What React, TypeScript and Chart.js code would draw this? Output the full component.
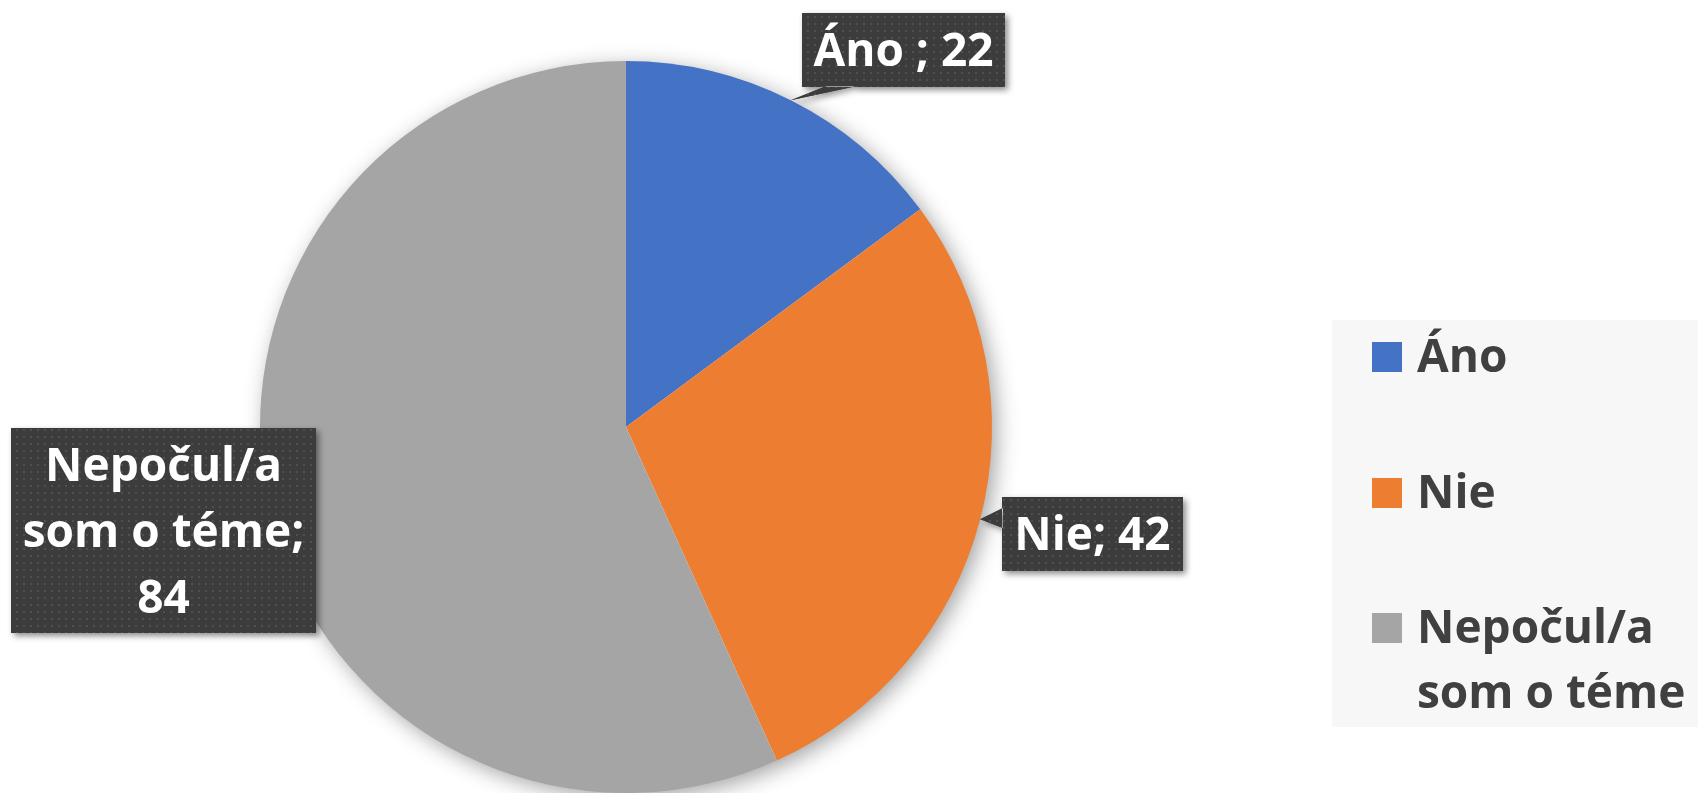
import React, { useEffect, useRef } from "react";
import { Chart, registerables } from "chart.js";

Chart.register(...registerables);

const categories = ["Áno", "Nie", "Nepočul/a som o téme"];
const values = [22, 42, 84];
const colors = ["#4472C4", "#ED7D31", "#A5A5A5"];
const dataLabelLines = [["Áno ; 22"], ["Nie; 42"], ["Nepočul/a", "som o téme;", "84"]];
const legendLines = [["Áno"], ["Nie"], ["Nepočul/a", "som o téme"]];

const FONT = "'Open Sans', 'DejaVu Sans', sans-serif";
const FONT_SIZE = 46;
const LINE_H = 66;

// layout of the label boxes (Excel-style manually placed callouts)
const labelBoxes = [
  { x: 802, y: 13, w: 203, h: 74, side: "bottom" },
  { x: 1002, y: 497, w: 181, h: 74, side: "left" },
  { x: 11, y: 428, w: 305, h: 205, side: "none" },
];

const legendBox = { x: 1332, y: 320, w: 366, h: 407 };
const legendItemsY = [342, 478, 613];

function makePattern(ctx: CanvasRenderingContext2D) {
  const c = document.createElement("canvas");
  c.width = 7;
  c.height = 7;
  const g = c.getContext("2d")!;
  g.fillStyle = "#3c3c3c";
  g.fillRect(0, 0, 7, 7);
  g.fillStyle = "#505050";
  g.fillRect(2, 2, 2, 2);
  return ctx.createPattern(c, "repeat");
}

const decorPlugin = {
  id: "decor",
  beforeDatasetsDraw(chart: any) {
    const ctx = chart.ctx as CanvasRenderingContext2D;
    const arc = chart.getDatasetMeta(0).data[0];
    if (!arc) return;
    const { x, y, outerRadius } = arc.getProps(["x", "y", "outerRadius"], true);
    ctx.save();
    ctx.shadowColor = "rgba(0,0,0,0.38)";
    ctx.shadowBlur = 22;
    ctx.shadowOffsetX = 5;
    ctx.shadowOffsetY = 5;
    ctx.fillStyle = "#ffffff";
    ctx.beginPath();
    ctx.arc(x, y, outerRadius - 1, 0, Math.PI * 2);
    ctx.fill();
    ctx.restore();
  },
  afterDatasetsDraw(chart: any) {
    const ctx = chart.ctx as CanvasRenderingContext2D;
    const meta = chart.getDatasetMeta(0);
    const pattern = makePattern(ctx);
    meta.data.forEach((arc: any, i: number) => {
      const p = arc.getProps(["x", "y", "startAngle", "endAngle", "outerRadius"], true);
      const mid = (p.startAngle + p.endAngle) / 2;
      const tipX = p.x + Math.cos(mid) * p.outerRadius;
      const tipY = p.y + Math.sin(mid) * p.outerRadius;
      const b = labelBoxes[i];
      const path = new Path2D();
      path.rect(b.x, b.y, b.w, b.h);
      if (b.side === "bottom") {
        const t = new Path2D();
        t.moveTo(b.x + b.w * 0.12, b.y + b.h - 1);
        t.lineTo(tipX, tipY);
        t.lineTo(b.x + b.w * 0.27, b.y + b.h - 1);
        t.closePath();
        path.addPath(t);
      } else if (b.side === "left") {
        const t = new Path2D();
        t.moveTo(b.x + 1, b.y + b.h * 0.15);
        t.lineTo(tipX, tipY);
        t.lineTo(b.x + 1, b.y + b.h * 0.42);
        t.closePath();
        path.addPath(t);
      }
      ctx.save();
      ctx.shadowColor = "rgba(0,0,0,0.45)";
      ctx.shadowBlur = 6;
      ctx.shadowOffsetX = 3;
      ctx.shadowOffsetY = 3;
      ctx.fillStyle = "#3c3c3c";
      ctx.fill(path, "nonzero");
      ctx.restore();
      ctx.save();
      ctx.fillStyle = pattern || "#3c3c3c";
      ctx.fill(path, "nonzero");
      ctx.restore();

      const lines = dataLabelLines[i];
      ctx.save();
      ctx.font = `bold ${FONT_SIZE}px ${FONT}`;
      ctx.fillStyle = "#ffffff";
      ctx.textAlign = "center";
      ctx.textBaseline = "alphabetic";
      const capH = FONT_SIZE * 0.714;
      const cy = b.y + b.h / 2;
      const firstBase = cy - ((lines.length - 1) * LINE_H) / 2 + capH / 2;
      lines.forEach((ln, k) => {
        ctx.fillText(ln, b.x + b.w / 2, firstBase + k * LINE_H);
      });
      ctx.restore();
    });
  },
  afterDraw(chart: any) {
    const ctx = chart.ctx as CanvasRenderingContext2D;
    ctx.save();
    ctx.fillStyle = "#f7f7f7";
    ctx.fillRect(legendBox.x, legendBox.y, legendBox.w, legendBox.h);
    const ds = chart.data.datasets[0];
    ctx.font = `bold ${FONT_SIZE}px ${FONT}`;
    ctx.textAlign = "left";
    ctx.textBaseline = "alphabetic";
    legendLines.forEach((lines, i) => {
      const y = legendItemsY[i];
      ctx.fillStyle = ds.backgroundColor[i];
      ctx.fillRect(1372, y, 30, 30);
      ctx.fillStyle = "#404040";
      lines.forEach((ln, k) => {
        ctx.fillText(ln, 1417, y + 30 + k * 65);
      });
    });
    ctx.restore();
  },
};

export default function App() {
  const ref = useRef<HTMLCanvasElement | null>(null);
  useEffect(() => {
    if (!ref.current) return;
    const chart = new Chart(ref.current, {
      type: "pie",
      data: {
        labels: categories,
        datasets: [
          {
            data: values,
            backgroundColor: colors,
            borderWidth: 0,
            hoverBorderWidth: 0,
            hoverOffset: 0,
            offset: 0,
          },
        ],
      },
      options: {
        animation: false,
        responsive: true,
        maintainAspectRatio: false,
        layout: { padding: { left: 259, right: 705, top: 61, bottom: -2 } },
        plugins: {
          legend: { display: false },
          tooltip: { enabled: false },
        },
      },
      plugins: [decorPlugin],
    });
    return () => chart.destroy();
  }, []);
  return (
    <div
      style={{
        position: "fixed",
        left: 0,
        top: 0,
        width: 1698,
        height: 793,
        background: "#ffffff",
        overflow: "hidden",
      }}
    >
      <canvas ref={ref} />
    </div>
  );
}
